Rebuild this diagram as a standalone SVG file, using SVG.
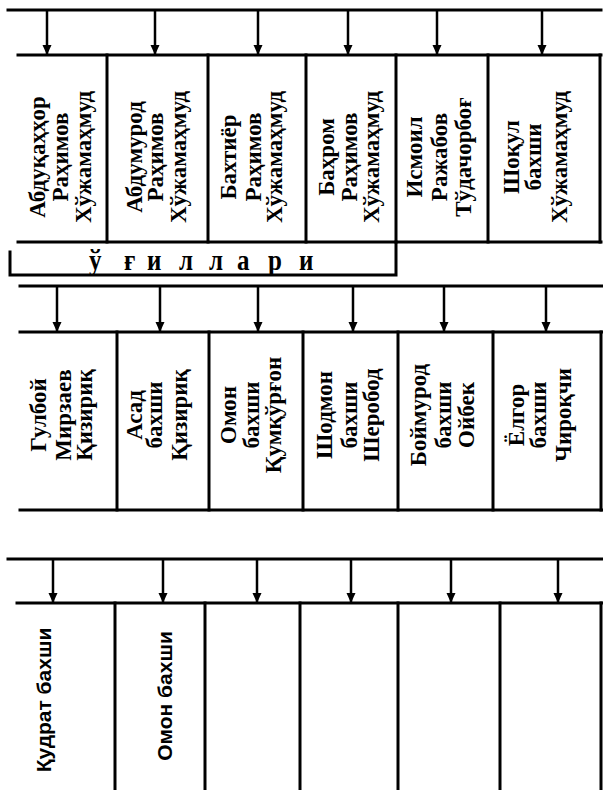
<svg xmlns="http://www.w3.org/2000/svg" width="603" height="790" viewBox="0 0 603 790">
<defs>
<marker id="ah" markerUnits="userSpaceOnUse" markerWidth="10" markerHeight="12" refX="10" refY="4.5" orient="auto">
<path d="M0,0 L10,4.5 L0,9 Z" fill="#000"/>
</marker>
<style>
.ln{stroke:#000;stroke-width:3;fill:none;stroke-linecap:square}
.ar{stroke:#000;stroke-width:2.5;fill:none;marker-end:url(#ah)}
.t{font-family:"Liberation Serif","DejaVu Serif",serif;font-weight:bold;font-size:23px;text-anchor:middle;fill:#000}
.s{font-family:"Liberation Sans","DejaVu Sans",sans-serif;font-weight:bold;font-size:21px;text-anchor:middle;fill:#000}
.u{font-family:"Liberation Serif","DejaVu Serif",serif;font-weight:bold;font-size:25px;fill:#000}
</style>
</defs>
<rect width="603" height="790" fill="#fff"/>
<g id="connectors">
<line class="ln" x1="8" y1="10" x2="601" y2="10"/>
<line class="ar" x1="47" y1="10" x2="47" y2="55"/>
<line class="ar" x1="155" y1="10" x2="155" y2="55"/>
<line class="ar" x1="258" y1="10" x2="258" y2="55"/>
<line class="ar" x1="348" y1="10" x2="348" y2="55"/>
<line class="ar" x1="437" y1="10" x2="437" y2="55"/>
<line class="ar" x1="542" y1="10" x2="542" y2="55"/>
<line class="ln" x1="20" y1="286" x2="603" y2="286"/>
<line class="ar" x1="57" y1="286" x2="57" y2="332"/>
<line class="ar" x1="160" y1="286" x2="160" y2="332"/>
<line class="ar" x1="258" y1="286" x2="258" y2="332"/>
<line class="ar" x1="353" y1="286" x2="353" y2="332"/>
<line class="ar" x1="444" y1="286" x2="444" y2="332"/>
<line class="ar" x1="546" y1="286" x2="546" y2="332"/>
<line class="ln" x1="8" y1="559" x2="603" y2="559"/>
<line class="ar" x1="53" y1="559" x2="53" y2="603"/>
<line class="ar" x1="163" y1="559" x2="163" y2="603"/>
<line class="ar" x1="257" y1="559" x2="257" y2="603"/>
<line class="ar" x1="351" y1="559" x2="351" y2="603"/>
<line class="ar" x1="451" y1="559" x2="451" y2="603"/>
<line class="ar" x1="558" y1="559" x2="558" y2="603"/>
</g>
<g id="row1-frame">
<line class="ln" x1="18" y1="55" x2="601" y2="55"/>
<line class="ln" x1="18" y1="242" x2="601" y2="242"/>
<line class="ln" x1="107" y1="55" x2="107" y2="242"/>
<line class="ln" x1="208" y1="55" x2="208" y2="242"/>
<line class="ln" x1="306" y1="55" x2="306" y2="242"/>
<line class="ln" x1="396" y1="55" x2="396" y2="242"/>
<line class="ln" x1="488" y1="55" x2="488" y2="242"/>
<line class="ln" x1="600" y1="55" x2="600" y2="242"/>
</g>
<g id="n1"><text class="t" transform="translate(45,157) rotate(-90)">Абдуқаҳҳор</text><text class="t" transform="translate(68,157) rotate(-90)">Раҳимов</text><text class="t" transform="translate(91,157) rotate(-90)">Хўжамаҳмуд</text></g>
<g id="n2"><text class="t" transform="translate(142,157) rotate(-90)">Абдумурод</text><text class="t" transform="translate(163,157) rotate(-90)">Раҳимов</text><text class="t" transform="translate(186,157) rotate(-90)">Хўжамаҳмуд</text></g>
<g id="n3"><text class="t" transform="translate(236,157) rotate(-90)">Бахтиёр</text><text class="t" transform="translate(261,157) rotate(-90)">Раҳимов</text><text class="t" transform="translate(282,157) rotate(-90)">Хўжамаҳмуд</text></g>
<g id="n4"><text class="t" transform="translate(334,157) rotate(-90)">Баҳром</text><text class="t" transform="translate(357,157) rotate(-90)">Раҳимов</text><text class="t" transform="translate(379,157) rotate(-90)">Хўжамаҳмуд</text></g>
<g id="n5"><text class="t" transform="translate(422,157) rotate(-90)">Исмоил</text><text class="t" transform="translate(447,157) rotate(-90)">Ражабов</text><text class="t" transform="translate(471,157) rotate(-90)">Тўдачорбоғ</text></g>
<g id="n6"><text class="t" transform="translate(519,157) rotate(-90)">Шоқул</text><text class="t" transform="translate(541,157) rotate(-90)">бахши</text><text class="t" transform="translate(567,157) rotate(-90)">Хўжамаҳмуд</text></g>
<g id="sons">
<polyline class="ln" points="10,252 10,275 396,275 396,242"/>
<text class="u" transform="translate(0,270) scale(1,1.2)" x="89 124 147 179 209 237 268 299" y="0">ўғиллари</text>
</g>
<g id="row2-frame">
<line class="ln" x1="20" y1="332" x2="603" y2="332"/>
<line class="ln" x1="20" y1="510" x2="603" y2="510"/>
<line class="ln" x1="117" y1="332" x2="117" y2="510"/>
<line class="ln" x1="209" y1="332" x2="209" y2="510"/>
<line class="ln" x1="303" y1="332" x2="303" y2="510"/>
<line class="ln" x1="398" y1="332" x2="398" y2="510"/>
<line class="ln" x1="493" y1="332" x2="493" y2="510"/>
<line class="ln" x1="601" y1="332" x2="601" y2="510"/>
</g>
<g id="m1"><text class="t" transform="translate(46,415) rotate(-90)">Гулбой</text><text class="t" transform="translate(71,415) rotate(-90)">Мирзаев</text><text class="t" transform="translate(92,415) rotate(-90)">Қизириқ</text></g>
<g id="m2"><text class="t" transform="translate(142,415) rotate(-90)">Асад</text><text class="t" transform="translate(162,415) rotate(-90)">бахши</text><text class="t" transform="translate(187,415) rotate(-90)">Қизириқ</text></g>
<g id="m3"><text class="t" transform="translate(236,415) rotate(-90)">Омон</text><text class="t" transform="translate(259,415) rotate(-90)">бахши</text><text class="t" transform="translate(281,415) rotate(-90)">Қумқўрғон</text></g>
<g id="m4"><text class="t" transform="translate(332,415) rotate(-90)">Шодмон</text><text class="t" transform="translate(357,415) rotate(-90)">бахши</text><text class="t" transform="translate(379,415) rotate(-90)">Шеробод</text></g>
<g id="m5"><text class="t" transform="translate(426,415) rotate(-90)">Боймурод</text><text class="t" transform="translate(451,415) rotate(-90)">бахши</text><text class="t" transform="translate(474,415) rotate(-90)">Ойбек</text></g>
<g id="m6"><text class="t" transform="translate(524,415) rotate(-90)">Ёлгор</text><text class="t" transform="translate(546,415) rotate(-90)">бахши</text><text class="t" transform="translate(571,415) rotate(-90)">Чироқчи</text></g>
<g id="row3-frame">
<line class="ln" x1="17" y1="603" x2="603" y2="603"/>
<line class="ln" x1="115" y1="603" x2="115" y2="790"/>
<line class="ln" x1="205" y1="603" x2="205" y2="790"/>
<line class="ln" x1="300" y1="603" x2="300" y2="790"/>
<line class="ln" x1="398" y1="603" x2="398" y2="790"/>
<line class="ln" x1="500" y1="603" x2="500" y2="790"/>
<line class="ln" x1="601" y1="603" x2="601" y2="790"/>
</g>
<g id="b1"><text class="s" transform="translate(51,700) rotate(-90)">Қудрат бахши</text></g>
<g id="b2"><text class="s" transform="translate(172,696) rotate(-90)">Омон бахши</text></g>
<g id="b3"/>
<g id="b4"/>
<g id="b5"/>
<g id="b6"/>
</svg>
